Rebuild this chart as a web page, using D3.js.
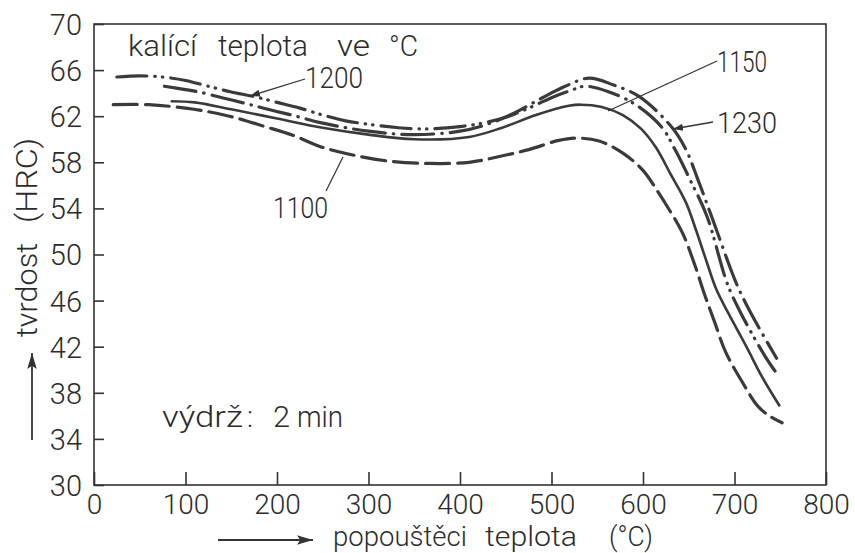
<!DOCTYPE html>
<html><head><meta charset="utf-8">
<script src="https://cdn.jsdelivr.net/npm/d3@7"></script>
<style>
html,body{margin:0;padding:0;background:#fff;}
svg{display:block;}
text{font-family:Roboto,"Liberation Sans",sans-serif;font-weight:300;fill:#2b2b2b;}
</style></head>
<body>
<svg id="c" width="855" height="553"></svg>
<script>
// ---- data ----
const xTicks = [0,100,200,300,400,500,600,700,800];
const yTicks = [30,34,38,42,46,50,54,58,62,66,70];

const t1100 = [21, 60, 109, 148, 187, 219, 246, 279, 322, 366, 410, 443, 475, 508, 528, 552, 578, 600, 615, 627, 643, 657, 667, 678, 690, 708, 726, 740, 752];
const h1100 = [63.0, 63.0, 62.6, 62.0, 61.1, 60.3, 59.4, 58.7, 58.1, 57.9, 58.0, 58.5, 59.1, 59.9, 60.1, 59.85, 58.8, 57.3, 55.6, 54.1, 51.9, 49.0, 46.6, 44.2, 41.6, 39.0, 36.8, 35.9, 35.4];

const t1150 = [85, 110, 150, 200, 250, 300, 350, 410, 446, 483, 519, 532, 555, 578, 598, 614, 630, 647, 658, 669, 680, 694, 713, 730, 749];
const h1150 = [63.3, 63.2, 62.6, 61.8, 61.0, 60.4, 60.0, 60.2, 61.0, 62.1, 62.9, 63.0, 62.8, 62.1, 60.9, 59.3, 57.0, 54.5, 52.1, 49.5, 47.0, 44.8, 42.0, 39.4, 36.9];

const t1200 = [25, 50, 75, 100, 125, 150, 175, 200, 225, 250, 275, 300, 333, 365, 400, 425, 450, 475, 500, 520, 537, 563, 592, 621, 635, 652, 670, 692, 707, 734, 746];
const h1200 = [65.4, 65.5, 65.4, 65.1, 64.6, 64.1, 63.7, 63.2, 62.7, 62.1, 61.6, 61.3, 61.0, 60.9, 61.1, 61.4, 61.9, 62.7, 63.6, 64.2, 64.6, 64.1, 63.0, 61.0, 59.1, 56.4, 53.3, 47.5, 44.9, 41.1, 39.7];

const t1230 = [77, 100, 115, 140, 166, 190, 216, 250, 300, 350, 400, 430, 460, 490, 515, 541, 568, 596, 632, 647, 660, 675, 702, 718, 746];
const h1230 = [64.6, 64.3, 64.1, 63.6, 63.1, 62.6, 62.1, 61.4, 60.7, 60.4, 60.7, 61.3, 62.3, 63.6, 64.6, 65.3, 64.7, 63.7, 61.0, 59.1, 56.5, 53.3, 47.5, 44.9, 41.0];

const seriesNames = ["1100","1150","1200","1230"];

const titleYWords = ["tvrdost","(HRC)"];
const titleXWords = ["popouštěci","teplota","(°C)"];
const noteTopWords = ["kalící","teplota","ve","°C"];
const noteBottomWords = ["výdrž",":","2","min"];

// ---- drawing ----
const svg = d3.select("#c");
const ink = "#333";
const x = d3.scaleLinear().domain([0,800]).range([94,826]);
const y = d3.scaleLinear().domain([30,70]).range([485,24]);

// frame
svg.append("rect").attr("x",x(0)).attr("y",y(70))
  .attr("width",x(800)-x(0)).attr("height",y(30)-y(70))
  .attr("fill","none").attr("stroke",ink).attr("stroke-width",1.6);

// axes
const gx = svg.append("g").attr("transform",`translate(0,${y(30)})`)
  .call(d3.axisBottom(x).tickValues(xTicks).tickSize(-13).tickFormat(d3.format("d")));
gx.select(".domain").remove();
gx.selectAll("line").attr("stroke",ink).attr("stroke-width",1.6);
gx.selectAll("text").attr("y",29).attr("dy",0).attr("font-size",28).attr("fill","#2b2b2b")
  .style("font-family","Roboto, sans-serif");

const gy = svg.append("g").attr("transform",`translate(${x(0)},0)`)
  .call(d3.axisLeft(y).tickValues(yTicks).tickSize(-10).tickPadding(12));
gy.select(".domain").remove();
gy.selectAll("line").attr("stroke",ink).attr("stroke-width",1.6);
gy.selectAll("text").attr("font-size",29).attr("dy","0.36em").attr("fill","#2b2b2b")
  .style("font-family","Roboto, sans-serif");

// curves
const line = d3.line().x(d=>x(d[0])).y(d=>y(d[1])).curve(d3.curveCatmullRom.alpha(0.5));
const zip = (a,b)=>a.map((v,i)=>[v,b[i]]);
const curves = [
  {name:"1100", pts:zip(t1100,h1100), dash:"24 8", w:3.2},
  {name:"1150", pts:zip(t1150,h1150), dash:null, w:2.6},
  {name:"1200", pts:zip(t1200,h1200), dash:"30 8 0.5 7 0.5 8", w:3.2},
  {name:"1230", pts:zip(t1230,h1230), dash:"32 8 0.5 8", w:3.2}
];
svg.append("g").selectAll("path").data(curves).join("path")
  .attr("d",d=>line(d.pts)).attr("fill","none").attr("stroke","#3a3a3a")
  .attr("stroke-width",d=>d.w).attr("stroke-linecap","round")
  .attr("stroke-dasharray",d=>d.dash);

// arrow marker
const defs = svg.append("defs");
defs.append("marker").attr("id","ah").attr("viewBox","0 0 10 10").attr("refX",10).attr("refY",5)
  .attr("markerWidth",10).attr("markerHeight",10).attr("markerUnits","userSpaceOnUse").attr("orient","auto")
  .append("path").attr("d","M0,1.5 L10,5 L0,8.5 Z").attr("fill",ink);
defs.append("marker").attr("id","ahBig").attr("viewBox","0 0 10 10").attr("refX",10).attr("refY",5)
  .attr("markerWidth",16).attr("markerHeight",16).attr("markerUnits","userSpaceOnUse").attr("orient","auto")
  .append("path").attr("d","M0,2 L10,5 L0,8 L2,5 Z").attr("fill",ink);

// leader lines
const leaders = [
  {x1:305,y1:79,x2:250,y2:96,arrow:true},
  {x1:713,y1:122,x2:673,y2:129,arrow:true},
  {x1:717,y1:61,x2:608,y2:111,arrow:false},
  {x1:326,y1:191,x2:343,y2:157,arrow:false}
];
svg.append("g").selectAll("line").data(leaders).join("line")
  .attr("x1",d=>d.x1).attr("y1",d=>d.y1).attr("x2",d=>d.x2).attr("y2",d=>d.y2)
  .attr("stroke",ink).attr("stroke-width",1.3)
  .attr("marker-end",d=>d.arrow?"url(#ah)":null);

// series labels
const labelPos = {"1100":[273,218,55],"1150":[717,72,50],"1200":[305,88,58],"1230":[717,133,60]};
svg.append("g").selectAll("text").data(seriesNames).join("text")
  .attr("x",d=>labelPos[d][0]).attr("y",d=>labelPos[d][1])
  .attr("textLength",d=>labelPos[d][2]).attr("lengthAdjust","spacingAndGlyphs")
  .attr("font-size",29).text(d=>d);

// word-positioned texts (each word fitted to its width in the reference)
function words(parent, list, xs, ws, yy, size, transform){
  const g = parent.append("g");
  if (transform) g.attr("transform",transform);
  g.selectAll("text").data(list).join("text")
    .attr("x",(d,i)=>xs[i]).attr("y",yy).attr("font-size",size)
    .attr("textLength",(d,i)=>ws[i]).attr("lengthAdjust","spacingAndGlyphs")
    .text(d=>d);
  return g;
}
words(svg, noteTopWords, [128,218,337,389], [69,90,33,29], 56, 30);
words(svg, noteBottomWords, [162,247,273,297], [81,6,17,46], 427, 29);
words(svg, titleXWords, [333,485,609], [134,92,44], 546, 27);
words(svg, titleYWords, [0,114], [94,85], 0, 29, "translate(37,337) rotate(-90)");

// title arrows
svg.append("line").attr("x1",218).attr("y1",540).attr("x2",313).attr("y2",540)
  .attr("stroke",ink).attr("stroke-width",1.8).attr("marker-end","url(#ahBig)");
svg.append("line").attr("x1",32).attr("y1",440).attr("x2",32).attr("y2",353)
  .attr("stroke",ink).attr("stroke-width",1.8).attr("marker-end","url(#ahBig)");
</script>
</body></html>
